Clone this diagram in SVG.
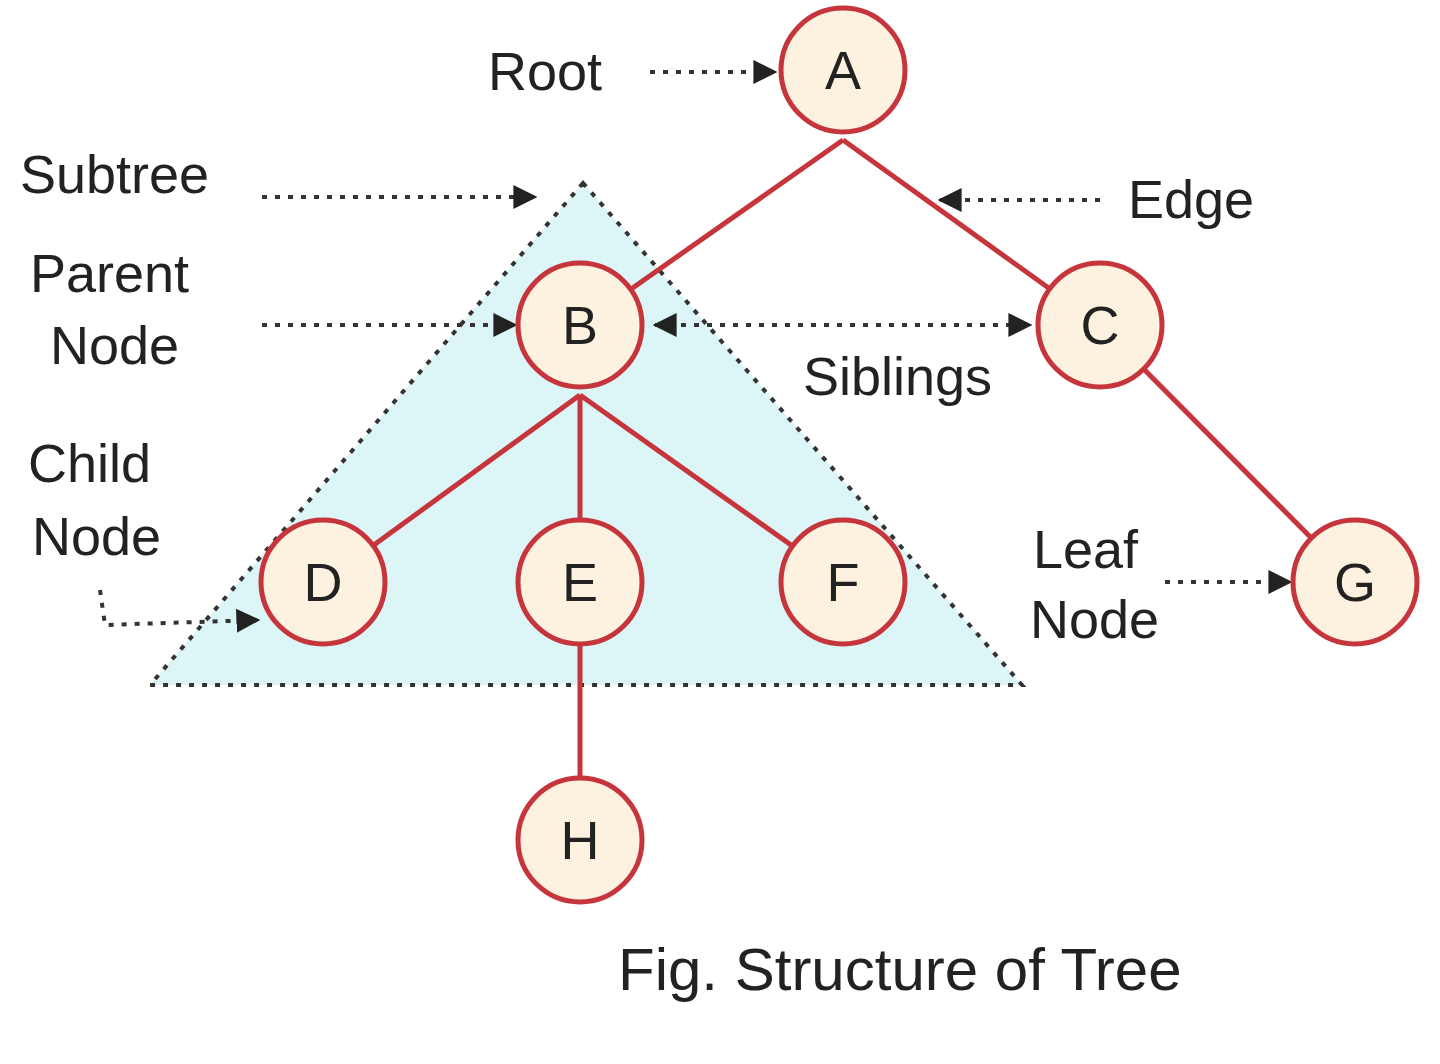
<svg xmlns="http://www.w3.org/2000/svg" width="1440" height="1064" viewBox="0 0 1440 1064">
<style>
.n{fill:#fdf2df;stroke:#c6343c;stroke-width:5}
.e{stroke:#c6343c;stroke-width:5;fill:none}
.d{stroke:#333;stroke-width:4;stroke-dasharray:5 8;fill:none}
.t{font-family:"Liberation Sans",Arial,sans-serif;font-size:54px;fill:#222}
.l{font-family:"Liberation Sans",Arial,sans-serif;font-size:54px;fill:#222;text-anchor:middle}
</style>
<defs><marker id="ah" viewBox="0 0 10 10" refX="9" refY="5" markerWidth="6" markerHeight="6" orient="auto-start-reverse"><path d="M0,0L10,5L0,10z" fill="#222"/></marker></defs>
<rect width="1440" height="1064" fill="#fff"/>
<polygon id="subtree" points="583,183 150,685 1022,685" fill="#dcf5f7" stroke="#333" stroke-width="4" stroke-dasharray="5 8"/>
<g id="connectors">
<line class="e" x1="843" y1="140" x2="580" y2="325"/>
<line class="e" x1="843" y1="140" x2="1100" y2="325"/>
<line class="e" x1="580" y1="395" x2="323" y2="582"/>
<line class="e" x1="580" y1="395" x2="580" y2="582"/>
<line class="e" x1="580" y1="395" x2="843" y2="582"/>
<line class="e" x1="1100" y1="325" x2="1355" y2="582"/>
<line class="e" x1="580" y1="582" x2="580" y2="840"/>
<line class="d" x1="650" y1="72" x2="775" y2="72" marker-end="url(#ah)"/>
<line class="d" x1="262" y1="197" x2="535" y2="197" marker-end="url(#ah)"/>
<line class="d" x1="1100" y1="200" x2="940" y2="200" marker-end="url(#ah)"/>
<line class="d" x1="262" y1="325" x2="515" y2="325" marker-end="url(#ah)"/>
<line class="d" x1="655" y1="325" x2="1030" y2="325" marker-start="url(#ah)" marker-end="url(#ah)"/>
<path class="d" d="M100,590 L105,625 L258,620" marker-end="url(#ah)"/>
<line class="d" x1="1165" y1="582" x2="1290" y2="582" marker-end="url(#ah)"/>
</g>
<g id="A"><circle class="n" cx="843" cy="70" r="62"/><text class="l" x="843" y="89">A</text></g>
<g id="B"><circle class="n" cx="580" cy="325" r="62"/><text class="l" x="580" y="344">B</text></g>
<g id="C"><circle class="n" cx="1100" cy="325" r="62"/><text class="l" x="1100" y="344">C</text></g>
<g id="D"><circle class="n" cx="323" cy="582" r="62"/><text class="l" x="323" y="601">D</text></g>
<g id="E"><circle class="n" cx="580" cy="582" r="62"/><text class="l" x="580" y="601">E</text></g>
<g id="F"><circle class="n" cx="843" cy="582" r="62"/><text class="l" x="843" y="601">F</text></g>
<g id="G"><circle class="n" cx="1355" cy="582" r="62"/><text class="l" x="1355" y="601">G</text></g>
<g id="H"><circle class="n" cx="580" cy="840" r="62"/><text class="l" x="580" y="859">H</text></g>
<g id="labels">
<text class="t" x="488" y="90">Root</text>
<text class="t" x="20" y="193">Subtree</text>
<text class="t" x="30" y="292">Parent</text>
<text class="t" x="50" y="364">Node</text>
<text class="t" x="1128" y="218">Edge</text>
<text class="t" x="803" y="395">Siblings</text>
<text class="t" x="28" y="482">Child</text>
<text class="t" x="32" y="555">Node</text>
<text class="t" x="1033" y="568">Leaf</text>
<text class="t" x="1030" y="638">Node</text>
<text class="t" x="618" y="990" style="font-size:60px">Fig. Structure of Tree</text>
</g>
</svg>
